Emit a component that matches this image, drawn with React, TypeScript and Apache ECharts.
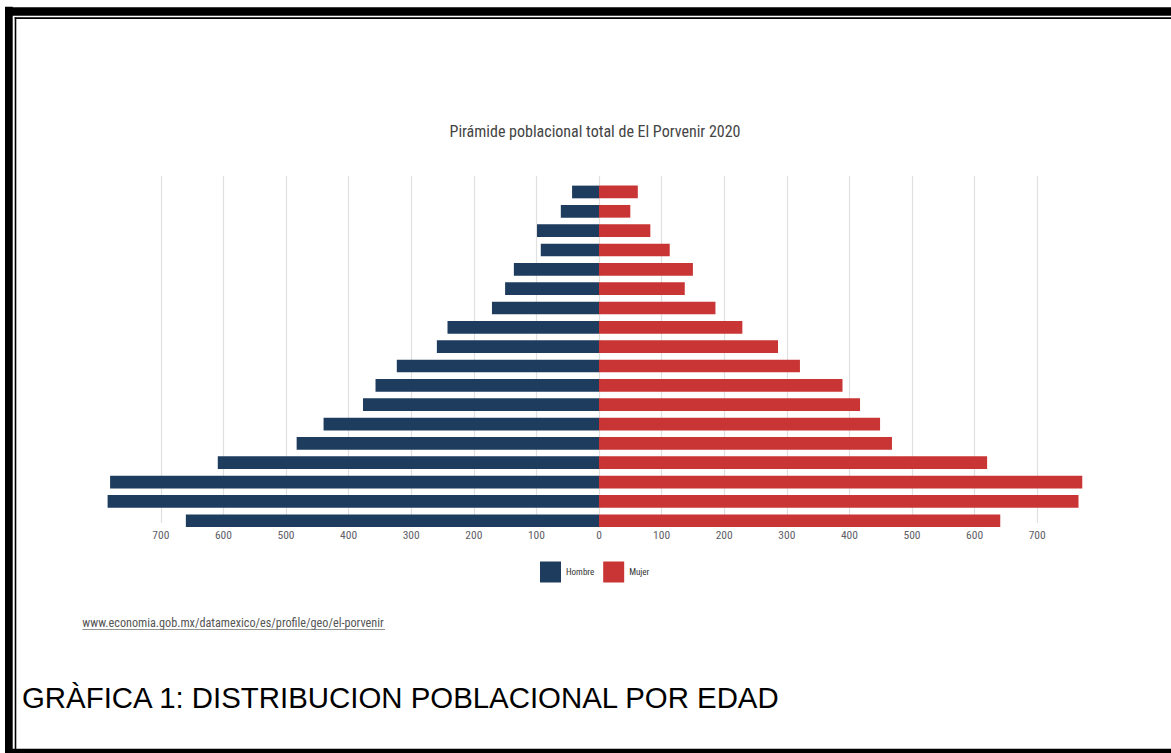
import React, { useEffect, useRef } from "react";
import * as echarts from "echarts";

const ageGroups = [
  "0 a 4 años", "5 a 9 años", "10 a 14 años", "15 a 19 años", "20 a 24 años",
  "25 a 29 años", "30 a 34 años", "35 a 39 años", "40 a 44 años", "45 a 49 años",
  "50 a 54 años", "55 a 59 años", "60 a 64 años", "65 a 69 años", "70 a 74 años",
  "75 a 79 años", "80 a 84 años", "85 años o más",
];
const hombre = [660, 785, 781, 609, 483, 440, 377, 357, 323, 259, 242, 171, 150, 136, 93, 99, 61, 43];
const mujer = [641, 766, 772, 620, 468, 449, 417, 389, 321, 286, 229, 186, 137, 150, 113, 82, 50, 62];
const tickValues = [-700, -600, -500, -400, -300, -200, -100, 0, 100, 200, 300, 400, 500, 600, 700];
const seriesNames = ["Hombre", "Mujer"];
const titleText = "Pirámide poblacional total de El Porvenir 2020";
const sourceText = "www.economia.gob.mx/datamexico/es/profile/geo/el-porvenir";
const captionText = "GRÀFICA 1: DISTRIBUCION POBLACIONAL POR EDAD";

const AXIS_MAX = 785;
const condensed = "'Roboto Condensed', 'Liberation Sans Narrow', Roboto, sans-serif";

export default function App() {
  const ref = useRef<HTMLDivElement>(null);
  useEffect(() => {
    if (!ref.current) return;
    const chart = echarts.init(ref.current, null, { renderer: "svg" });
    const option: any = {
      animation: false,
      backgroundColor: "#ffffff",
      legend: {
        data: seriesNames,
        left: 540,
        top: 561.5,
        padding: 0,
        icon: "rect",
        itemWidth: 21,
        itemHeight: 21,
        itemGap: 9,
        textStyle: { fontSize: 9, color: "#333", fontFamily: condensed },
      },
      grid: [
        { left: 107.6, right: 80.6, top: 182.3, bottom: 222.6 },
        { left: 107.6, right: 80.6, top: 176, bottom: 230 },
      ],
      xAxis: [
        {
          type: "value",
          gridIndex: 0,
          min: -AXIS_MAX,
          max: AXIS_MAX,
          show: false,
        },
        {
          type: "value",
          gridIndex: 1,
          min: -AXIS_MAX,
          max: AXIS_MAX,
          axisLine: { show: false },
          axisTick: { show: false, customValues: tickValues },
          axisLabel: {
            customValues: tickValues,
            margin: 5.5,
            fontSize: 11.5,
            color: "#606068",
            fontFamily: condensed,
            formatter: (v: number) => String(Math.abs(v)),
          },
          splitLine: { show: true, lineStyle: { color: "#e0e0e0", width: 1.2 } },
        },
      ],
      yAxis: [
        { type: "category", gridIndex: 0, data: ageGroups, show: false },
        { type: "value", gridIndex: 1, min: 0, max: 1, show: false },
      ],
      series: [
        {
          name: seriesNames[0],
          type: "bar",
          xAxisIndex: 0,
          yAxisIndex: 0,
          data: hombre.map((v) => -v),
          barWidth: 12.7,
          barGap: "-100%",
          itemStyle: { color: "#1d3c5e" },
        },
        {
          name: seriesNames[1],
          type: "bar",
          xAxisIndex: 0,
          yAxisIndex: 0,
          data: mujer,
          barWidth: 12.7,
          barGap: "-100%",
          itemStyle: { color: "#c93434" },
        },
      ],
      graphic: [
        { type: "rect", shape: { x: 5, y: 6.7, width: 7.7, height: 746.3 }, style: { fill: "#000" } },
        { type: "rect", shape: { x: 5, y: 7.3, width: 1166, height: 8.4 }, style: { fill: "#000" } },
        { type: "rect", shape: { x: 14.7, y: 17.3, width: 1.6, height: 732 }, style: { fill: "#000" } },
        { type: "rect", shape: { x: 14.7, y: 17.3, width: 1156.3, height: 1.7 }, style: { fill: "#000" } },
        { type: "rect", shape: { x: 5, y: 748.7, width: 1166, height: 4.3 }, style: { fill: "#000" } },
        {
          type: "text",
          x: 595,
          y: 131,
          style: {
            text: titleText,
            fill: "#444",
            fontSize: 16,
            fontFamily: condensed,
            align: "center",
            verticalAlign: "middle",
          },
        },
        {
          type: "text",
          x: 82.3,
          y: 623.3,
          style: {
            text: sourceText,
            fill: "#555",
            fontSize: 12.2,
            fontFamily: condensed,
            align: "left",
            verticalAlign: "middle",
          },
        },
        {
          type: "line",
          shape: { x1: 82.3, y1: 629.5, x2: 385, y2: 629.5 },
          style: { stroke: "#777", lineWidth: 0.8 },
        },
        {
          type: "text",
          x: 22,
          y: 697,
          style: {
            text: captionText,
            fill: "#000",
            fontSize: 29.4,
            fontFamily: "'Liberation Sans', Arial, sans-serif",
            align: "left",
            verticalAlign: "middle",
          },
        },
      ],
    };
    chart.setOption(option);
    return () => chart.dispose();
  }, []);
  return (
    <div
      ref={ref}
      style={{ position: "fixed", left: 0, top: 0, width: 1171, height: 753, background: "#fff" }}
    />
  );
}
